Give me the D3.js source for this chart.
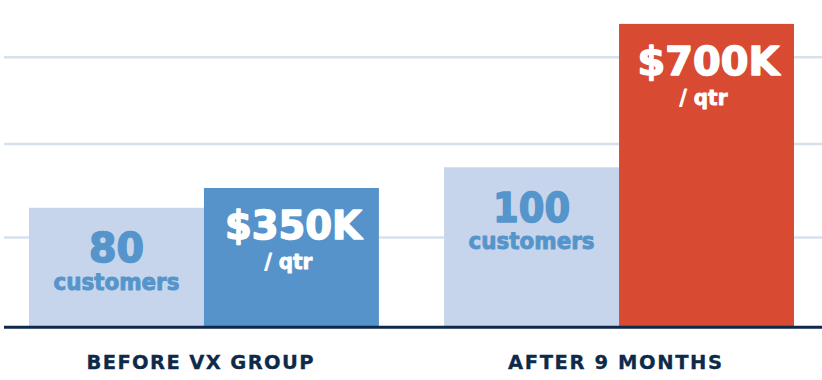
<!DOCTYPE html>
<html>
<head>
<meta charset="utf-8">
<script src="https://cdn.jsdelivr.net/npm/d3@7"></script>
<style>
  html, body { margin: 0; padding: 0; background: #ffffff; }
  svg { display: block; }
  text { font-family: "DejaVu Sans", sans-serif; font-weight: bold; }
</style>
</head>
<body>
<svg id="chart" width="822" height="380"></svg>
<script>
// ---- data ----
const groups = ["BEFORE VX GROUP", "AFTER 9 MONTHS"];
const seriesKeys = ["customers", "revenue"];
// bar heights in chart units (0..100 scale)
const customerHeights = [39.4, 52.9];
const revenueHeights = [46.0, 100.7];
const customerLabels = ["80", "100"];
const customerUnit = ["customers", "customers"];
const revenueLabels = ["$350K", "$700K"];
const revenueUnit = ["/ qtr", "/ qtr"];
const gridValues = [29.5, 60.7, 89.6];

// ---- layout ----
const W = 822, H = 380;
const svg = d3.select("#chart");

const y = d3.scaleLinear().domain([0, 100]).range([326, 26]);
const x0 = d3.scaleBand().domain(groups).range([29, 794]).paddingInner(0.157).paddingOuter(0);
const x1 = d3.scaleBand().domain(seriesKeys).range([0, x0.bandwidth()]).padding(0);

const colors = { customers: "#c6d5ec", revenue: ["#5593ca", "#d84a32"] };

// gridlines
svg.append("g").selectAll("line").data(gridValues).join("line")
  .attr("x1", 4).attr("x2", W)
  .attr("y1", d => y(d)).attr("y2", d => y(d))
  .attr("stroke", "#d6e1ec").attr("stroke-width", 2.5);

const rows = groups.map((g, i) => ({
  group: g, i,
  bars: [
    { key: "customers", h: customerHeights[i], big: customerLabels[i], small: customerUnit[i] },
    { key: "revenue", h: revenueHeights[i], big: revenueLabels[i], small: revenueUnit[i] }
  ]
}));

const gSel = svg.append("g").selectAll("g").data(rows).join("g")
  .attr("transform", d => `translate(${x0(d.group)},0)`);

gSel.selectAll("rect").data(d => d.bars.map(b => Object.assign({ gi: d.i }, b))).join("rect")
  .attr("x", d => x1(d.key))
  .attr("y", d => y(d.h))
  .attr("width", x1.bandwidth())
  .attr("height", d => y(0) - y(d.h))
  .attr("fill", d => d.key === "customers" ? colors.customers : colors.revenue[d.gi]);

// labels in bars
const bigWidths = { "80": 55, "100": 77, "$350K": 138, "$700K": 143 };
gSel.each(function (d) {
  const g = d3.select(this);
  d.bars.forEach(b => {
    const cx = x1(b.key) + x1.bandwidth() / 2;
    const top = y(b.h);
    const col = b.key === "customers" ? "#5595cb" : "#ffffff";
    if (b.key === "customers") {
      g.append("text").attr("x", cx).attr("y", top + 54.5)
        .attr("text-anchor", "middle").attr("font-size", 41)
        .attr("textLength", bigWidths[b.big]).attr("lengthAdjust", "spacingAndGlyphs")
        .attr("fill", col).attr("stroke", col).attr("stroke-width", 1.6).attr("stroke-linejoin", "round")
        .text(b.big);
      g.append("text").attr("x", cx).attr("y", top + 82)
        .attr("text-anchor", "middle").attr("font-size", 22.5)
        .attr("textLength", 126).attr("lengthAdjust", "spacingAndGlyphs")
        .attr("fill", col).attr("stroke", col).attr("stroke-width", 0.9).attr("stroke-linejoin", "round")
        .text(b.small);
    } else {
      g.append("text").attr("x", cx + 2).attr("y", top + 51)
        .attr("text-anchor", "middle").attr("font-size", 39)
        .attr("textLength", bigWidths[b.big] - 1).attr("lengthAdjust", "spacingAndGlyphs")
        .attr("fill", col).attr("stroke", col).attr("stroke-width", 1.5).attr("stroke-linejoin", "round")
        .text(b.big);
      g.append("text").attr("x", cx - 3).attr("y", top + 81)
        .attr("text-anchor", "middle").attr("font-size", 21)
        .attr("textLength", 48).attr("lengthAdjust", "spacingAndGlyphs")
        .attr("fill", col).attr("stroke", col).attr("stroke-width", 0.8).attr("stroke-linejoin", "round")
        .text(b.small);
    }
  });
});

// baseline
svg.append("line").attr("x1", 4).attr("x2", W)
  .attr("y1", y(0) + 1.3).attr("y2", y(0) + 1.3)
  .attr("stroke", "#0e2a4a").attr("stroke-width", 3);

// category labels
const catWidths = [227, 214];
svg.append("g").selectAll("text").data(groups).join("text")
  .attr("x", d => x0(d) + x0.bandwidth() / 2 - 4)
  .attr("y", 368.5)
  .attr("text-anchor", "middle")
  .attr("font-size", 19.5)
  .attr("textLength", (d, i) => catWidths[i]).attr("lengthAdjust", "spacing")
  .attr("fill", "#0e2a4a").attr("stroke", "#0e2a4a").attr("stroke-width", 0.3)
  .text(d => d);
</script>
</body>
</html>
